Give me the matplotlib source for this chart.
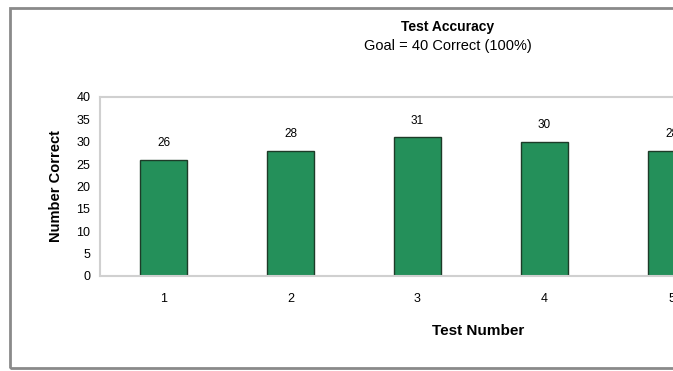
import matplotlib
matplotlib.use("Agg")
import matplotlib.pyplot as plt
from matplotlib.patches import Rectangle

tests = [1, 2, 3, 4, 5]
correct = [26, 28, 31, 30, 28]
yticks = [0, 5, 10, 15, 20, 25, 30, 35, 40]

plt.rcParams["font.family"] = ["Liberation Sans", "DejaVu Sans"]

fig = plt.figure(figsize=(6.73, 3.71), dpi=100)
fig.patch.set_facecolor("white")

# outer chart frame (runs off the right edge like the source)
fig.patches.append(Rectangle((10 / 673, 3 / 371), 1.2, 360 / 371,
                             transform=fig.transFigure, fill=False,
                             edgecolor="#8a8a8a", linewidth=2))

ax = fig.add_axes([100 / 673, 95 / 371, 635 / 673, 179 / 371])
ax.bar(tests, correct, width=0.37, color="#24905a", edgecolor="#1d3b28", linewidth=1.0)
for x, v in zip(tests, correct):
    ax.annotate(str(v), (x, v), xytext=(0, 12), textcoords="offset points",
                ha="center", va="center", fontsize=8.5)

ax.set_xlim(0.5, 5.5)
ax.set_ylim(0, 40)
ax.set_yticks(yticks)
ax.set_xticks(tests)
ax.tick_params(axis="both", length=0, labelsize=9)
ax.tick_params(axis="x", pad=12)
ax.tick_params(axis="y", pad=7)
for s in ax.spines.values():
    s.set_color("#d0d0d0")
    s.set_linewidth(1.5)

ax.set_ylabel("Number Correct", fontsize=10.5, fontweight="bold")
ax.yaxis.set_label_coords(-37 / 635, 0.5)

fig.text(448 / 673, 1 - 27 / 371, "Test Accuracy", ha="center", va="center",
         fontsize=10, fontweight="bold")
fig.text(448 / 673, 1 - 46 / 371, "Goal = 40 Correct (100%)", ha="center", va="center",
         fontsize=10.5)
fig.text(478 / 673, 1 - 331 / 371, "Test Number", ha="center", va="center",
         fontsize=11, fontweight="bold")

fig.savefig("out.png", dpi=100)
